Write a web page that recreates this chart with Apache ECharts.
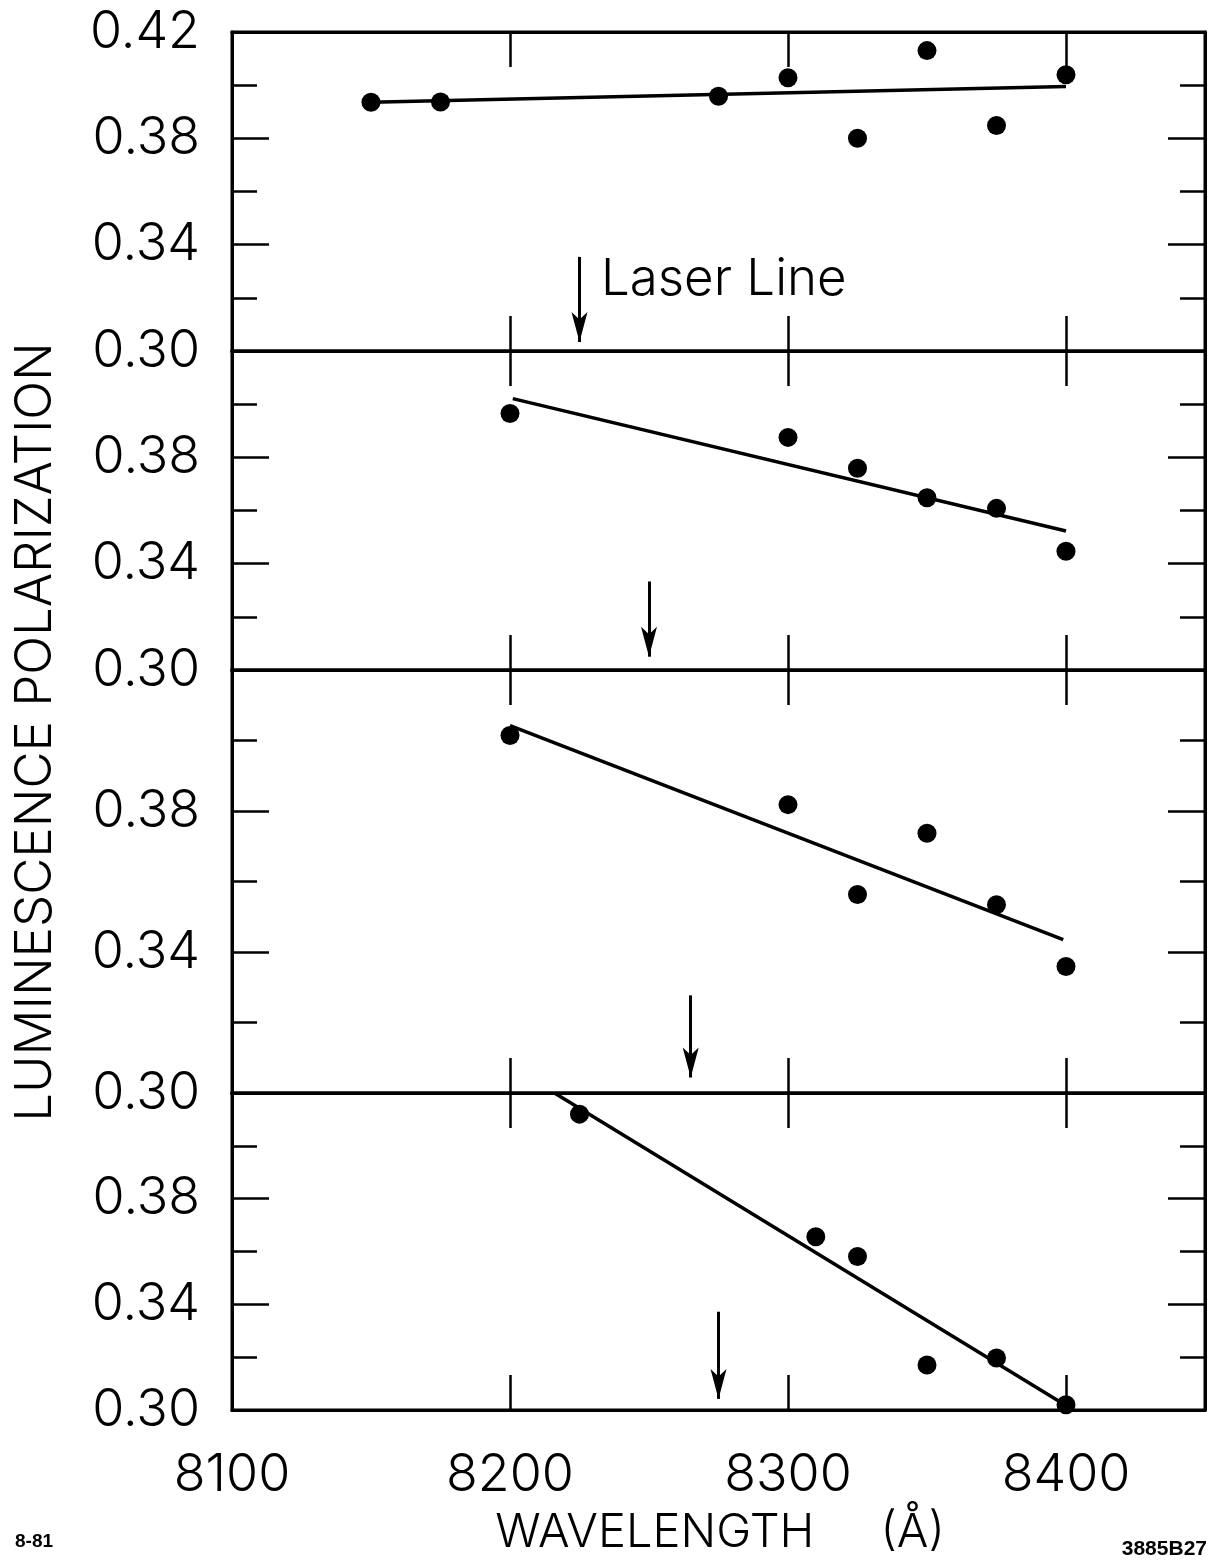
<!DOCTYPE html>
<html><head><meta charset="utf-8">
<script src="https://cdn.jsdelivr.net/npm/echarts@6/dist/echarts.min.js"></script>
<style>html,body{margin:0;padding:0;background:#fff}#c{width:1214px;height:1564px}</style>
</head><body><div id="c"></div>
<script>
// ---- axes ----
const xMin = 8100, xMax = 8450, xStep = 100;
const yMin = 0.30, yMax = 0.42, yStep = 0.04;

// ---- panel 1 ----
const p1X = [8150, 8175, 8275, 8300, 8325, 8350, 8375, 8400];
const p1Y = [0.3936, 0.3937, 0.3958, 0.4028, 0.3800, 0.4130, 0.3848, 0.4039];
const p1FitX = [8150, 8400];
const p1FitY = [0.3936, 0.3995];
const p1Arrow = [8225, 0.3354, 0.3034];

// ---- panel 2 ----
const p2X = [8200, 8300, 8325, 8350, 8375, 8400];
const p2Y = [0.3965, 0.3875, 0.3759, 0.3648, 0.3608, 0.3447];
const p2FitX = [8201, 8400];
const p2FitY = [0.4021, 0.3523];
const p2Arrow = [8250, 0.3333, 0.3050];

// ---- panel 3 ----
const p3X = [8200, 8300, 8325, 8350, 8375, 8400];
const p3Y = [0.4014, 0.3818, 0.3563, 0.3737, 0.3534, 0.3359];
const p3FitX = [8200, 8399];
const p3FitY = [0.4042, 0.3435];
const p3Arrow = [8265, 0.3277, 0.3044];

// ---- panel 4 ----
const p4X = [8225, 8310, 8325, 8350, 8375, 8400];
const p4Y = [0.4120, 0.3656, 0.3581, 0.3170, 0.3197, 0.3020];
const p4FitX = [8216, 8400];
const p4FitY = [0.4200, 0.3017];
const p4Arrow = [8275, 0.3372, 0.3042];

const yTitle = 'LUMINESCENCE POLARIZATION';
const xTitle = 'WAVELENGTH     (Å)';
const laserText = 'Laser Line';
const noteLeft = '8-81';
const noteRight = '3885B27';

const panels = [
  {x: p1X, y: p1Y, fx: p1FitX, fy: p1FitY, arrow: p1Arrow},
  {x: p2X, y: p2Y, fx: p2FitX, fy: p2FitY, arrow: p2Arrow},
  {x: p3X, y: p3Y, fx: p3FitX, fy: p3FitY, arrow: p3Arrow},
  {x: p4X, y: p4Y, fx: p4FitX, fy: p4FitY, arrow: p4Arrow}
];

// layout (pixels)
const gridTops = [32, 351, 670, 1093];
const gridHeights = [319, 319, 423, 317];

const FONT = "Inter, 'DejaVu Sans', sans-serif";
const FW = 300;
const zip = (a, b) => a.map((v, i) => [v, b[i]]);

const grids = [], xAxes = [], yAxes = [], series = [];
panels.forEach((p, i) => {
  grids.push({left: 232, right: 9, top: gridTops[i], height: gridHeights[i],
    show: true, borderColor: '#000', borderWidth: 3, backgroundColor: 'transparent', containLabel: false});
  const xBase = {
    gridIndex: i, type: 'value', min: xMin, max: xMax, interval: xStep,
    axisLine: {show: true, onZero: false, lineStyle: {color: '#000', width: 3}},
    axisTick: {show: true, inside: true, length: 35, lineStyle: {color: '#000', width: 2.5}},
    splitLine: {show: false}
  };
  xAxes.push(Object.assign({}, xBase, {position: 'bottom',
    axisLabel: {show: i === 3, showMaxLabel: false, color: '#000', fontSize: 52, fontWeight: FW, margin: 39,
      fontFamily: FONT, formatter: v => String(v)}}));
  xAxes.push(Object.assign({}, xBase, {position: 'top', axisLabel: {show: false}}));
  const yBase = {
    gridIndex: i, type: 'value', min: yMin, max: yMax, interval: yStep,
    axisLine: {show: true, onZero: false, lineStyle: {color: '#000', width: 3}},
    axisTick: {show: true, inside: true, length: 37, lineStyle: {color: '#000', width: 2.5}},
    minorTick: {show: true, splitNumber: 2, length: 25, lineStyle: {color: '#000', width: 2.5}},
    splitLine: {show: false}, minorSplitLine: {show: false}
  };
  yAxes.push(Object.assign({}, yBase, {position: 'left',
    axisLabel: {show: true, showMaxLabel: i === 0, showMinLabel: true, color: '#000', fontSize: 52,
      fontWeight: FW, margin: 32, fontFamily: FONT, formatter: v => v.toFixed(2)}}));
  yAxes.push(Object.assign({}, yBase, {position: 'right', axisLabel: {show: false}}));

  series.push({
    type: 'line', xAxisIndex: 2 * i, yAxisIndex: 2 * i, data: zip(p.fx, p.fy),
    showSymbol: false, symbol: 'none', lineStyle: {color: '#000', width: 3.5}, z: 3,
    markLine: {
      silent: true, animation: false, symbol: ['none', 'arrow'], symbolSize: [12, 30],
      label: {show: false},
      lineStyle: {color: '#000', width: 3, type: 'solid'},
      data: [[{coord: [p.arrow[0], p.arrow[1]]}, {coord: [p.arrow[0], p.arrow[2]]}]]
    }
  });
  series.push({
    type: 'scatter', xAxisIndex: 2 * i, yAxisIndex: 2 * i, data: zip(p.x, p.y),
    symbol: 'circle', symbolSize: 19, itemStyle: {color: '#000', opacity: 1}, z: 4
  });
});

const chart = echarts.init(document.getElementById('c'), null, {renderer: 'canvas'});
chart.setOption({
  animation: false,
  backgroundColor: '#fff',
  grid: grids, xAxis: xAxes, yAxis: yAxes, series: series,
  graphic: [
    {type: 'text', x: 36, y: 732, rotation: Math.PI / 2,
      style: {text: yTitle, font: FW + ' 51px ' + FONT, fill: '#000', textAlign: 'center', textVerticalAlign: 'middle'}},
    {type: 'text', x: 720, y: 1533,
      style: {text: xTitle, font: FW + ' 47px ' + FONT, fill: '#000', textAlign: 'center', textVerticalAlign: 'middle'}},
    {type: 'text', x: 601, y: 280,
      style: {text: laserText, font: FW + ' 51px ' + FONT, fill: '#000', textAlign: 'left', textVerticalAlign: 'middle'}},
    {type: 'text', x: 15, y: 1542,
      style: {text: noteLeft, font: 'bold 19px "Liberation Sans", Arial, sans-serif', fill: '#000', textAlign: 'left', textVerticalAlign: 'middle'}},
    {type: 'text', x: 1207, y: 1549,
      style: {text: noteRight, font: 'bold 21px "Liberation Sans", Arial, sans-serif', fill: '#000', textAlign: 'right', textVerticalAlign: 'middle'}}
  ]
});
</script>
</body></html>
